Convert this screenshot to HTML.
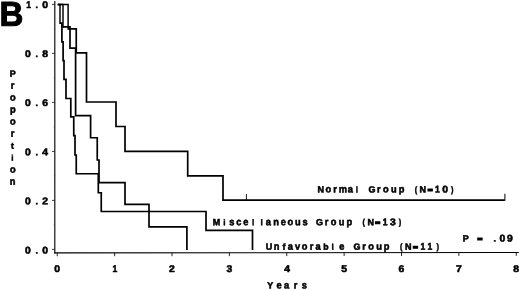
<!DOCTYPE html>
<html><head><meta charset="utf-8"><title>B</title>
<style>
html,body{margin:0;padding:0;background:#fff;}
svg{display:block;}
svg text{font-family:"Liberation Sans",sans-serif;font-weight:bold;fill:#000;text-rendering:geometricPrecision;}
</style></head>
<body>
<svg width="520" height="290" viewBox="0 0 520 290">
<rect width="520" height="290" fill="#fff"/>
<g>
<line x1="54.8" y1="1" x2="54.8" y2="253.4" stroke="#111" stroke-width="1.2"/>
<polygon points="54.2,252.25 518.7,252.1 518.7,253.0 54.2,253.55" fill="#000"/>
<line x1="57.25" y1="252.90" x2="57.25" y2="256.30" stroke="#111" stroke-width="0.9"/>
<line x1="114.62" y1="252.84" x2="114.62" y2="256.24" stroke="#111" stroke-width="0.9"/>
<line x1="172.00" y1="252.79" x2="172.00" y2="256.19" stroke="#111" stroke-width="0.9"/>
<line x1="229.38" y1="252.73" x2="229.38" y2="256.13" stroke="#111" stroke-width="0.9"/>
<line x1="286.75" y1="252.68" x2="286.75" y2="256.07" stroke="#111" stroke-width="0.9"/>
<line x1="344.12" y1="252.62" x2="344.12" y2="256.02" stroke="#111" stroke-width="0.9"/>
<line x1="401.50" y1="252.56" x2="401.50" y2="255.96" stroke="#111" stroke-width="0.9"/>
<line x1="458.88" y1="252.51" x2="458.88" y2="255.91" stroke="#111" stroke-width="0.9"/>
<line x1="516.25" y1="252.45" x2="516.25" y2="255.85" stroke="#111" stroke-width="0.9"/>
<line x1="52" y1="4.40" x2="55" y2="4.40" stroke="#222" stroke-width="0.9"/>
<line x1="53.8" y1="28.90" x2="55" y2="28.90" stroke="#444" stroke-width="0.7"/>
<line x1="52" y1="53.40" x2="55" y2="53.40" stroke="#222" stroke-width="0.9"/>
<line x1="53.8" y1="77.90" x2="55" y2="77.90" stroke="#444" stroke-width="0.7"/>
<line x1="52" y1="102.40" x2="55" y2="102.40" stroke="#222" stroke-width="0.9"/>
<line x1="53.8" y1="126.90" x2="55" y2="126.90" stroke="#444" stroke-width="0.7"/>
<line x1="52" y1="151.40" x2="55" y2="151.40" stroke="#222" stroke-width="0.9"/>
<line x1="53.8" y1="175.90" x2="55" y2="175.90" stroke="#444" stroke-width="0.7"/>
<line x1="52" y1="200.40" x2="55" y2="200.40" stroke="#222" stroke-width="0.9"/>
<line x1="53.8" y1="224.90" x2="55" y2="224.90" stroke="#444" stroke-width="0.7"/>
<line x1="52" y1="249.40" x2="55" y2="249.40" stroke="#222" stroke-width="0.9"/>
</g>
<g>
<path d="M57.75 4.40 L60.00 4.40 L60.00 23.95" fill="none" stroke="#000" stroke-width="1.45" stroke-linejoin="miter" stroke-linecap="butt"/>
<path d="M60.00 23.10 L61.90 23.10 L61.90 41.90 L63.10 41.90 L63.10 60.60 L64.00 60.60 L64.00 79.40 L66.00 79.40 L66.00 98.50 L70.80 98.50 L70.80 116.90 L73.75 116.90 L73.75 135.60 L75.00 135.60 L75.00 155.00 L76.25 155.00 L76.25 173.75 L98.30 173.75 L98.30 192.75 L101.25 192.75 L101.25 211.50 L206.00 211.50 L206.00 230.30 L252.50 230.30 L252.50 250.00" fill="none" stroke="#000" stroke-width="1.7" stroke-linejoin="miter" stroke-linecap="butt"/>
<path d="M57.75 4.40 L63.00 4.40 L63.00 27.75" fill="none" stroke="#000" stroke-width="1.45" stroke-linejoin="miter" stroke-linecap="butt"/>
<path d="M63.00 26.90 L70.00 26.90 L70.00 48.10 L75.60 48.10 L75.60 115.60 L90.60 115.60 L90.60 137.75 L97.25 137.75 L97.25 160.00 L99.00 160.00 L99.00 182.60 L125.00 182.60 L125.00 204.40 L149.00 204.40 L149.00 226.90 L186.90 226.90 L186.90 250.00" fill="none" stroke="#000" stroke-width="1.7" stroke-linejoin="miter" stroke-linecap="butt"/>
<path d="M57.75 4.40 L68.10 4.40 L68.10 29.65" fill="none" stroke="#000" stroke-width="1.45" stroke-linejoin="miter" stroke-linecap="butt"/>
<path d="M68.10 28.80 L76.25 28.80 L76.25 52.90 L86.50 52.90 L86.50 102.00 L116.00 102.00 L116.00 126.50 L125.00 126.50 L125.00 151.30 L187.70 151.30 L187.70 175.80 L223.00 175.80 L223.00 200.10 L504.75 200.10" fill="none" stroke="#000" stroke-width="1.7" stroke-linejoin="miter" stroke-linecap="butt"/>
<line x1="246.4" y1="194" x2="246.4" y2="200" stroke="#000" stroke-width="0.9"/>
<line x1="504.9" y1="193.75" x2="504.9" y2="200.9" stroke="#000" stroke-width="1"/>
</g>
<g transform="matrix(1 0.001 0 1 0 0)">
<text stroke="#000"><tspan x="317.55" y="192.28" font-size="9.00" textLength="6.50" lengthAdjust="spacingAndGlyphs" stroke-width="0.55">N</tspan><tspan x="325.46" y="192.27" font-size="10.10" textLength="5.68" lengthAdjust="spacingAndGlyphs" stroke-width="0.55">o</tspan><tspan x="333.28" y="192.26" font-size="10.10" textLength="3.62" lengthAdjust="spacingAndGlyphs" stroke-width="0.55">r</tspan><tspan x="338.85" y="192.26" font-size="10.10" textLength="8.26" lengthAdjust="spacingAndGlyphs" stroke-width="0.55">m</tspan><tspan x="347.85" y="192.25" font-size="10.10" textLength="5.17" lengthAdjust="spacingAndGlyphs" stroke-width="0.55">a</tspan><tspan x="355.85" y="192.24" font-size="8.30" textLength="2.31" lengthAdjust="spacingAndGlyphs" stroke-width="0.35">l</tspan> <tspan x="368.44" y="192.23" font-size="9.00" textLength="7.00" lengthAdjust="spacingAndGlyphs" stroke-width="0.55">G</tspan><tspan x="377.01" y="192.22" font-size="10.10" textLength="3.62" lengthAdjust="spacingAndGlyphs" stroke-width="0.55">r</tspan><tspan x="382.96" y="192.21" font-size="10.10" textLength="5.68" lengthAdjust="spacingAndGlyphs" stroke-width="0.55">o</tspan><tspan x="390.93" y="192.21" font-size="10.10" textLength="5.68" lengthAdjust="spacingAndGlyphs" stroke-width="0.55">u</tspan><tspan x="398.75" y="192.20" font-size="10.10" textLength="5.68" lengthAdjust="spacingAndGlyphs" stroke-width="0.55">p</tspan> <tspan x="414.82" y="191.98" font-size="8.80" textLength="2.49" lengthAdjust="spacingAndGlyphs" stroke-width="0.45">(</tspan><tspan x="419.55" y="192.18" font-size="9.00" textLength="6.50" lengthAdjust="spacingAndGlyphs" stroke-width="0.55">N</tspan><tspan x="427.71" y="191.42" font-size="5.50" textLength="4.82" lengthAdjust="spacingAndGlyphs" stroke-width="0.90">=</tspan><tspan x="435.08" y="192.16" font-size="9.70" textLength="4.75" lengthAdjust="spacingAndGlyphs" stroke-width="0.55">1</tspan><tspan x="442.27" y="192.15" font-size="9.70" textLength="5.77" lengthAdjust="spacingAndGlyphs" stroke-width="0.55">0</tspan><tspan x="451.11" y="191.95" font-size="8.80" textLength="2.49" lengthAdjust="spacingAndGlyphs" stroke-width="0.45">)</tspan></text>
<text stroke="#000"><tspan x="212.68" y="224.98" font-size="9.00" textLength="7.50" lengthAdjust="spacingAndGlyphs" stroke-width="0.55">M</tspan><tspan x="223.35" y="224.98" font-size="8.30" textLength="2.31" lengthAdjust="spacingAndGlyphs" stroke-width="0.35">i</tspan><tspan x="229.34" y="224.97" font-size="10.10" textLength="5.17" lengthAdjust="spacingAndGlyphs" stroke-width="0.55">s</tspan><tspan x="236.25" y="224.96" font-size="10.10" textLength="5.17" lengthAdjust="spacingAndGlyphs" stroke-width="0.55">c</tspan><tspan x="243.19" y="224.95" font-size="10.10" textLength="5.17" lengthAdjust="spacingAndGlyphs" stroke-width="0.55">e</tspan><tspan x="252.00" y="224.95" font-size="8.30" textLength="2.31" lengthAdjust="spacingAndGlyphs" stroke-width="0.35">l</tspan><tspan x="260.40" y="224.94" font-size="8.30" textLength="2.31" lengthAdjust="spacingAndGlyphs" stroke-width="0.35">l</tspan><tspan x="265.85" y="224.93" font-size="10.10" textLength="5.17" lengthAdjust="spacingAndGlyphs" stroke-width="0.55">a</tspan><tspan x="273.14" y="224.92" font-size="10.10" textLength="5.68" lengthAdjust="spacingAndGlyphs" stroke-width="0.55">n</tspan><tspan x="280.69" y="224.92" font-size="10.10" textLength="5.17" lengthAdjust="spacingAndGlyphs" stroke-width="0.55">e</tspan><tspan x="287.59" y="224.91" font-size="10.10" textLength="5.68" lengthAdjust="spacingAndGlyphs" stroke-width="0.55">o</tspan><tspan x="294.93" y="224.90" font-size="10.10" textLength="5.68" lengthAdjust="spacingAndGlyphs" stroke-width="0.55">u</tspan><tspan x="302.44" y="224.89" font-size="10.10" textLength="5.17" lengthAdjust="spacingAndGlyphs" stroke-width="0.55">s</tspan> <tspan x="316.09" y="224.88" font-size="9.00" textLength="7.00" lengthAdjust="spacingAndGlyphs" stroke-width="0.55">G</tspan><tspan x="324.83" y="224.87" font-size="10.10" textLength="3.62" lengthAdjust="spacingAndGlyphs" stroke-width="0.55">r</tspan><tspan x="330.79" y="224.87" font-size="10.10" textLength="5.68" lengthAdjust="spacingAndGlyphs" stroke-width="0.55">o</tspan><tspan x="338.68" y="224.86" font-size="10.10" textLength="5.68" lengthAdjust="spacingAndGlyphs" stroke-width="0.55">u</tspan><tspan x="346.62" y="224.85" font-size="10.10" textLength="5.68" lengthAdjust="spacingAndGlyphs" stroke-width="0.55">p</tspan> <tspan x="362.45" y="224.64" font-size="8.80" textLength="2.49" lengthAdjust="spacingAndGlyphs" stroke-width="0.45">(</tspan><tspan x="367.38" y="224.83" font-size="9.00" textLength="6.50" lengthAdjust="spacingAndGlyphs" stroke-width="0.55">N</tspan><tspan x="375.39" y="224.07" font-size="5.50" textLength="4.82" lengthAdjust="spacingAndGlyphs" stroke-width="0.90">=</tspan><tspan x="382.78" y="224.81" font-size="9.70" textLength="4.75" lengthAdjust="spacingAndGlyphs" stroke-width="0.55">1</tspan><tspan x="389.98" y="224.81" font-size="9.70" textLength="5.77" lengthAdjust="spacingAndGlyphs" stroke-width="0.55">3</tspan><tspan x="398.81" y="224.60" font-size="8.80" textLength="2.49" lengthAdjust="spacingAndGlyphs" stroke-width="0.45">)</tspan></text>
<text stroke="#000"><tspan x="265.83" y="249.53" font-size="9.00" textLength="6.50" lengthAdjust="spacingAndGlyphs" stroke-width="0.55">U</tspan><tspan x="273.64" y="249.52" font-size="10.10" textLength="5.68" lengthAdjust="spacingAndGlyphs" stroke-width="0.55">n</tspan><tspan x="282.39" y="249.52" font-size="8.70" textLength="2.90" lengthAdjust="spacingAndGlyphs" stroke-width="0.55">f</tspan><tspan x="287.68" y="249.51" font-size="10.10" textLength="5.17" lengthAdjust="spacingAndGlyphs" stroke-width="0.55">a</tspan><tspan x="294.92" y="249.50" font-size="10.10" textLength="5.17" lengthAdjust="spacingAndGlyphs" stroke-width="0.55">v</tspan><tspan x="301.74" y="249.50" font-size="10.10" textLength="5.68" lengthAdjust="spacingAndGlyphs" stroke-width="0.55">o</tspan><tspan x="309.83" y="249.49" font-size="10.10" textLength="3.62" lengthAdjust="spacingAndGlyphs" stroke-width="0.55">r</tspan><tspan x="315.55" y="249.48" font-size="10.10" textLength="5.17" lengthAdjust="spacingAndGlyphs" stroke-width="0.55">a</tspan><tspan x="323.36" y="249.47" font-size="8.70" textLength="5.31" lengthAdjust="spacingAndGlyphs" stroke-width="0.55">b</tspan><tspan x="331.55" y="249.47" font-size="8.30" textLength="2.31" lengthAdjust="spacingAndGlyphs" stroke-width="0.35">l</tspan><tspan x="339.27" y="249.46" font-size="10.10" textLength="5.17" lengthAdjust="spacingAndGlyphs" stroke-width="0.55">e</tspan> <tspan x="353.59" y="249.44" font-size="9.00" textLength="7.00" lengthAdjust="spacingAndGlyphs" stroke-width="0.55">G</tspan><tspan x="362.33" y="249.44" font-size="10.10" textLength="3.62" lengthAdjust="spacingAndGlyphs" stroke-width="0.55">r</tspan><tspan x="368.29" y="249.43" font-size="10.10" textLength="5.68" lengthAdjust="spacingAndGlyphs" stroke-width="0.55">o</tspan><tspan x="376.18" y="249.42" font-size="10.10" textLength="5.68" lengthAdjust="spacingAndGlyphs" stroke-width="0.55">u</tspan><tspan x="383.75" y="249.41" font-size="10.10" textLength="5.68" lengthAdjust="spacingAndGlyphs" stroke-width="0.55">p</tspan> <tspan x="399.95" y="249.20" font-size="8.80" textLength="2.49" lengthAdjust="spacingAndGlyphs" stroke-width="0.45">(</tspan><tspan x="404.88" y="249.39" font-size="9.00" textLength="6.50" lengthAdjust="spacingAndGlyphs" stroke-width="0.55">N</tspan><tspan x="413.01" y="248.63" font-size="5.50" textLength="4.82" lengthAdjust="spacingAndGlyphs" stroke-width="0.90">=</tspan><tspan x="420.48" y="249.38" font-size="9.70" textLength="4.75" lengthAdjust="spacingAndGlyphs" stroke-width="0.55">1</tspan><tspan x="427.58" y="249.37" font-size="9.70" textLength="4.75" lengthAdjust="spacingAndGlyphs" stroke-width="0.55">1</tspan><tspan x="436.44" y="249.16" font-size="8.80" textLength="2.49" lengthAdjust="spacingAndGlyphs" stroke-width="0.45">)</tspan></text>
<text stroke="#000"><tspan x="462.85" y="241.03" font-size="9.00" textLength="6.00" lengthAdjust="spacingAndGlyphs" stroke-width="0.55">P</tspan> <tspan x="477.59" y="240.27" font-size="5.50" textLength="4.82" lengthAdjust="spacingAndGlyphs" stroke-width="0.90">=</tspan> <tspan x="493.55" y="241.01" font-size="9.00" textLength="2.50" lengthAdjust="spacingAndGlyphs" stroke-width="0.55">.</tspan><tspan x="499.62" y="241.00" font-size="9.70" textLength="5.77" lengthAdjust="spacingAndGlyphs" stroke-width="0.55">0</tspan><tspan x="506.98" y="240.99" font-size="9.70" textLength="5.77" lengthAdjust="spacingAndGlyphs" stroke-width="0.55">9</tspan></text>
<text stroke="#000"><tspan x="267.14" y="288.13" font-size="9.00" textLength="6.00" lengthAdjust="spacingAndGlyphs" stroke-width="0.55">Y</tspan><tspan x="276.59" y="288.12" font-size="10.10" textLength="5.17" lengthAdjust="spacingAndGlyphs" stroke-width="0.55">e</tspan><tspan x="283.95" y="288.11" font-size="10.10" textLength="5.17" lengthAdjust="spacingAndGlyphs" stroke-width="0.55">a</tspan><tspan x="293.71" y="288.10" font-size="10.10" textLength="3.62" lengthAdjust="spacingAndGlyphs" stroke-width="0.55">r</tspan><tspan x="301.64" y="288.10" font-size="10.10" textLength="5.17" lengthAdjust="spacingAndGlyphs" stroke-width="0.55">s</tspan></text>
<text stroke="#000"><tspan x="54.37" y="271.84" font-size="9.70" textLength="5.77" lengthAdjust="spacingAndGlyphs" stroke-width="0.55">0</tspan></text>
<text stroke="#000"><tspan x="112.60" y="271.78" font-size="9.70" textLength="4.75" lengthAdjust="spacingAndGlyphs" stroke-width="0.55">1</tspan></text>
<text stroke="#000"><tspan x="169.14" y="271.73" font-size="9.70" textLength="5.77" lengthAdjust="spacingAndGlyphs" stroke-width="0.55">2</tspan></text>
<text stroke="#000"><tspan x="226.56" y="271.67" font-size="9.70" textLength="5.77" lengthAdjust="spacingAndGlyphs" stroke-width="0.55">3</tspan></text>
<text stroke="#000"><tspan x="284.21" y="271.61" font-size="9.70" textLength="5.77" lengthAdjust="spacingAndGlyphs" stroke-width="0.55">4</tspan></text>
<text stroke="#000"><tspan x="341.22" y="271.56" font-size="9.70" textLength="5.77" lengthAdjust="spacingAndGlyphs" stroke-width="0.55">5</tspan></text>
<text stroke="#000"><tspan x="398.61" y="271.50" font-size="9.70" textLength="5.77" lengthAdjust="spacingAndGlyphs" stroke-width="0.55">6</tspan></text>
<text stroke="#000"><tspan x="455.99" y="271.44" font-size="9.70" textLength="5.77" lengthAdjust="spacingAndGlyphs" stroke-width="0.55">7</tspan></text>
<text stroke="#000"><tspan x="513.36" y="271.38" font-size="9.70" textLength="5.77" lengthAdjust="spacingAndGlyphs" stroke-width="0.55">8</tspan></text>
<text stroke="#000"><tspan x="26.33" y="7.87" font-size="9.70" textLength="4.75" lengthAdjust="spacingAndGlyphs" stroke-width="0.55">1</tspan><tspan x="35.55" y="7.86" font-size="9.00" textLength="2.50" lengthAdjust="spacingAndGlyphs" stroke-width="0.55">.</tspan><tspan x="42.37" y="7.85" font-size="9.70" textLength="5.77" lengthAdjust="spacingAndGlyphs" stroke-width="0.55">0</tspan></text>
<text stroke="#000"><tspan x="25.02" y="56.97" font-size="9.70" textLength="5.77" lengthAdjust="spacingAndGlyphs" stroke-width="0.55">0</tspan><tspan x="35.55" y="56.96" font-size="9.00" textLength="2.50" lengthAdjust="spacingAndGlyphs" stroke-width="0.55">.</tspan><tspan x="42.36" y="56.95" font-size="9.70" textLength="5.77" lengthAdjust="spacingAndGlyphs" stroke-width="0.55">8</tspan></text>
<text stroke="#000"><tspan x="25.02" y="106.07" font-size="9.70" textLength="5.77" lengthAdjust="spacingAndGlyphs" stroke-width="0.55">0</tspan><tspan x="35.55" y="106.06" font-size="9.00" textLength="2.50" lengthAdjust="spacingAndGlyphs" stroke-width="0.55">.</tspan><tspan x="42.36" y="106.05" font-size="9.70" textLength="5.77" lengthAdjust="spacingAndGlyphs" stroke-width="0.55">6</tspan></text>
<text stroke="#000"><tspan x="25.02" y="155.17" font-size="9.70" textLength="5.77" lengthAdjust="spacingAndGlyphs" stroke-width="0.55">0</tspan><tspan x="35.55" y="155.16" font-size="9.00" textLength="2.50" lengthAdjust="spacingAndGlyphs" stroke-width="0.55">.</tspan><tspan x="42.31" y="155.15" font-size="9.70" textLength="5.77" lengthAdjust="spacingAndGlyphs" stroke-width="0.55">4</tspan></text>
<text stroke="#000"><tspan x="25.02" y="204.27" font-size="9.70" textLength="5.77" lengthAdjust="spacingAndGlyphs" stroke-width="0.55">0</tspan><tspan x="35.55" y="204.26" font-size="9.00" textLength="2.50" lengthAdjust="spacingAndGlyphs" stroke-width="0.55">.</tspan><tspan x="42.39" y="204.25" font-size="9.70" textLength="5.77" lengthAdjust="spacingAndGlyphs" stroke-width="0.55">2</tspan></text>
<text stroke="#000"><tspan x="25.02" y="253.37" font-size="9.70" textLength="5.77" lengthAdjust="spacingAndGlyphs" stroke-width="0.55">0</tspan><tspan x="35.55" y="253.36" font-size="9.00" textLength="2.50" lengthAdjust="spacingAndGlyphs" stroke-width="0.55">.</tspan><tspan x="42.37" y="253.35" font-size="9.70" textLength="5.77" lengthAdjust="spacingAndGlyphs" stroke-width="0.55">0</tspan></text>
<text stroke="#000"><tspan x="9.75" y="76.69" font-size="9.00" textLength="6.00" lengthAdjust="spacingAndGlyphs" stroke-width="0.55">P</tspan><tspan x="10.86" y="88.69" font-size="10.10" textLength="3.62" lengthAdjust="spacingAndGlyphs" stroke-width="0.55">r</tspan><tspan x="10.06" y="100.69" font-size="10.10" textLength="5.68" lengthAdjust="spacingAndGlyphs" stroke-width="0.55">o</tspan><tspan x="9.95" y="112.69" font-size="10.10" textLength="5.68" lengthAdjust="spacingAndGlyphs" stroke-width="0.55">p</tspan><tspan x="10.06" y="124.69" font-size="10.10" textLength="5.68" lengthAdjust="spacingAndGlyphs" stroke-width="0.55">o</tspan><tspan x="10.86" y="136.69" font-size="10.10" textLength="3.62" lengthAdjust="spacingAndGlyphs" stroke-width="0.55">r</tspan><tspan x="10.90" y="148.69" font-size="8.70" textLength="2.90" lengthAdjust="spacingAndGlyphs" stroke-width="0.55">t</tspan><tspan x="11.20" y="160.69" font-size="8.30" textLength="2.31" lengthAdjust="spacingAndGlyphs" stroke-width="0.35">i</tspan><tspan x="10.06" y="172.69" font-size="10.10" textLength="5.68" lengthAdjust="spacingAndGlyphs" stroke-width="0.55">o</tspan><tspan x="9.79" y="184.69" font-size="10.10" textLength="5.68" lengthAdjust="spacingAndGlyphs" stroke-width="0.55">n</tspan></text>
<text x="-0.43" y="25.75" font-size="34.5" stroke="#000" stroke-width="1.0" stroke-linejoin="miter" transform="scale(0.96,1)">B</text>
</g>
</svg>
</body></html>
